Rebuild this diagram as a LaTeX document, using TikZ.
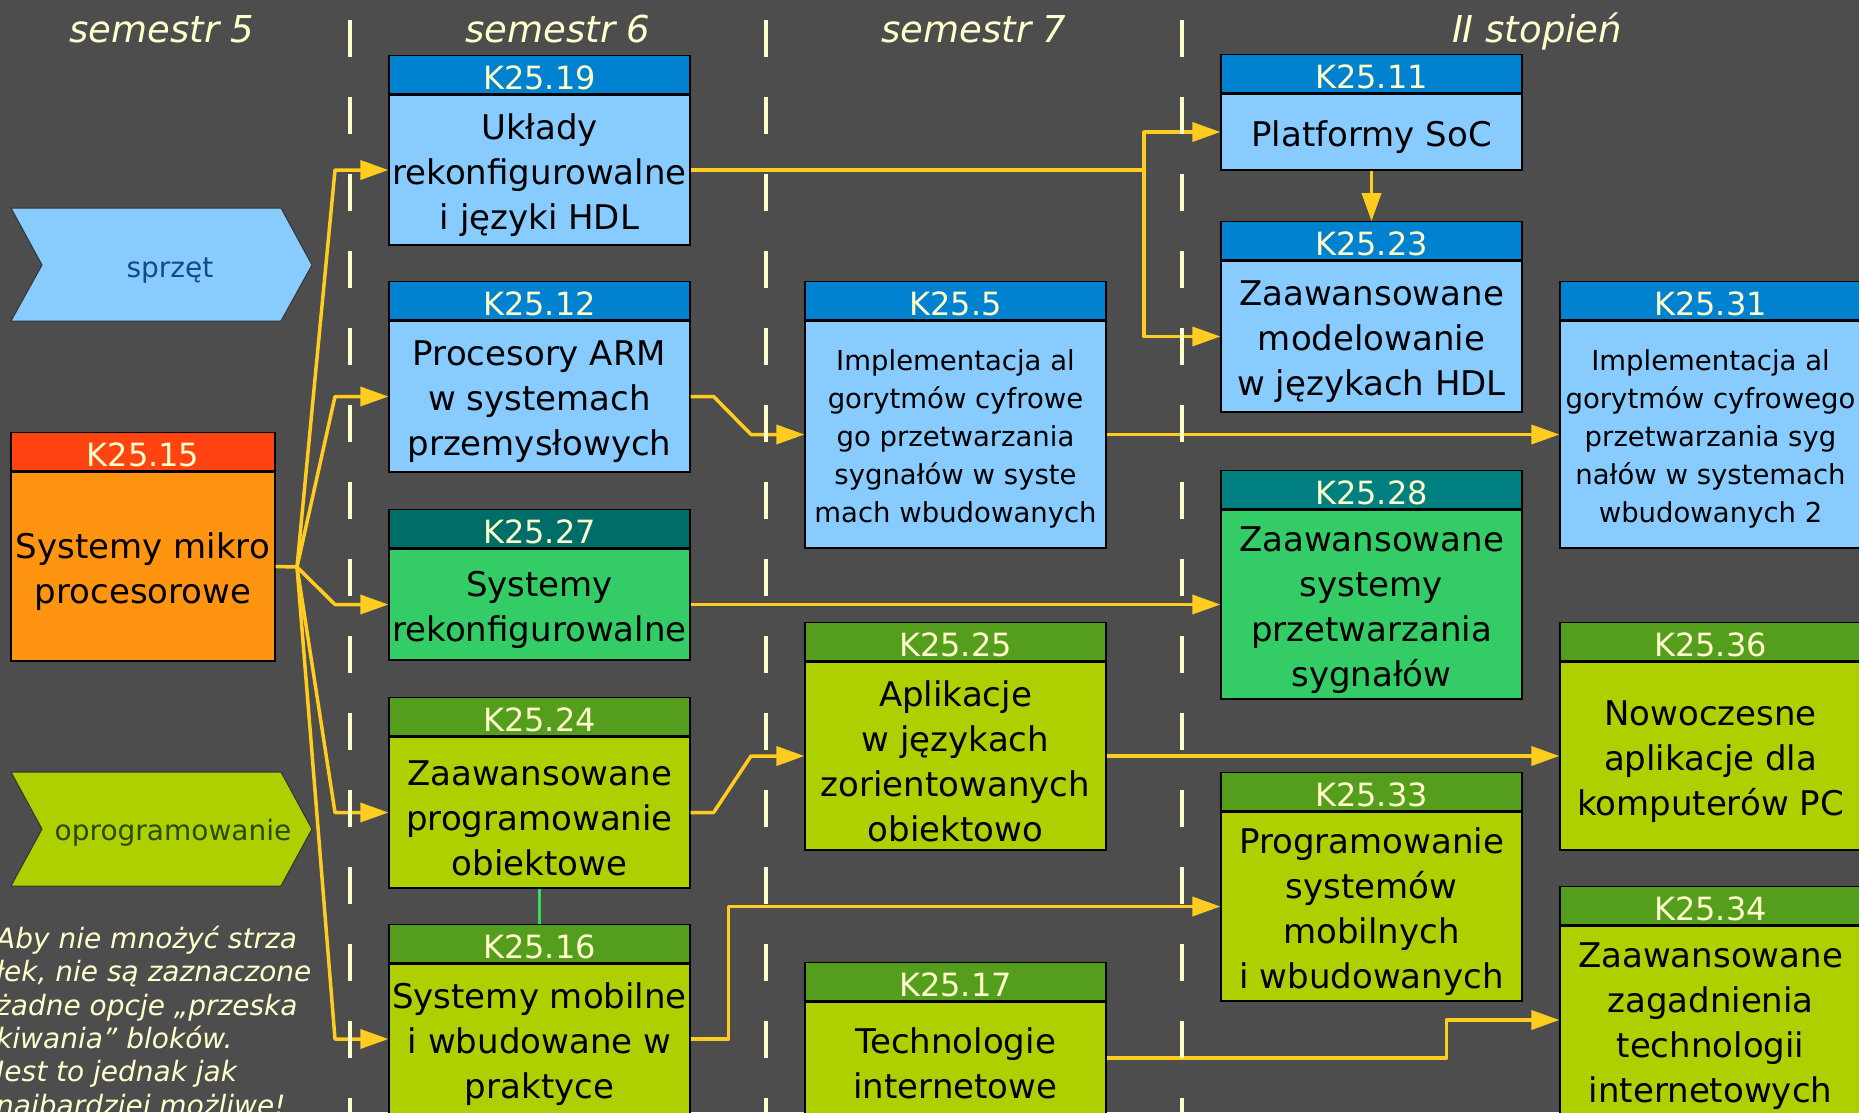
\documentclass[tikz,border=0pt]{standalone}
\usepackage{fontspec}
\setmainfont{DejaVu Sans}
\usetikzlibrary{arrows.meta}
\definecolor{bgdark}{HTML}{4D4D4D}
\definecolor{pale}{HTML}{FFFFCC}
\definecolor{linkyel}{HTML}{FFCC1F}
\definecolor{greenlink}{HTML}{33DD55}
\definecolor{hwheadc}{HTML}{0082D0}
\definecolor{hwbodyc}{HTML}{88CBFF}
\definecolor{dspheadc}{HTML}{006E68}
\definecolor{dspheadcc}{HTML}{008080}
\definecolor{dspbodyc}{HTML}{33CC66}
\definecolor{swheadc}{HTML}{559D1C}
\definecolor{swbodyc}{HTML}{AECF00}
\definecolor{baseheadc}{HTML}{FF4411}
\definecolor{basebodyc}{HTML}{FF9411}
\definecolor{hwtext}{HTML}{114A88}
\definecolor{swtext}{HTML}{2E4A00}
\newcommand{\lift}{\rule{0pt}{1.06em}}
\begin{document}
\begin{tikzpicture}[x=1pt,y=-1pt]
\tikzstyle{every node}+=[inner sep=0pt]
\tikzset{
  box/.style={draw=black, line width=1.2pt, minimum width=301pt, inner xsep=2pt, align=center, text=black, font=\fontsize{34}{45}\selectfont},
  small/.style={font=\fontsize{27.5}{38}\selectfont},
  hdr/.style={draw=black, line width=1.2pt, minimum width=301pt, minimum height=38pt, anchor=south, text=pale, font=\fontsize{32}{38}\selectfont, execute at begin node={\rule{0pt}{0.92em}}},
  hwhead/.style={fill=hwheadc}, hwbody/.style={fill=hwbodyc},
  dsphead/.style={fill=dspheadc}, dspbody/.style={fill=dspbodyc},
  swhead/.style={fill=swheadc}, swbody/.style={fill=swbodyc},
  heading/.style={text=pale, font=\fontsize{37}{44}\selectfont\itshape, anchor=base},
  tagshape/.style={draw=black!80, line width=1pt},
  wire/.style={draw=linkyel, line width=3.5pt, line join=round},
  arr/.style={-{Triangle[length=28pt,width=19pt]}},
  lane/.style={draw=pale, line width=3.5pt, dash pattern=on 37pt off 40pt}
}
\useasboundingbox (0,0) rectangle (1859,1112);
\fill[bgdark] (0,0) rectangle (1859,1112);

\node[heading] (s5) at (162,42) {semestr 5};
\node[heading] (s6) at (558,42) {semestr 6};
\node[heading] (s7) at (974,42) {semestr 7};
\node[heading] (s8) at (1537,42) {II stopień};

\draw[tagshape, fill=hwbodyc] (11,208) -- (281,208) -- (312,265) -- (281,321) -- (11,321) -- (42,265) -- cycle;
\node[anchor=base, text=hwtext, font=\fontsize{28}{34}\selectfont] (hwtag) at (170,277) {sprzęt};
\draw[tagshape, fill=swbodyc] (11,772) -- (281,772) -- (312,829) -- (281,886) -- (11,886) -- (42,829) -- cycle;
\node[anchor=base, text=swtext, font=\fontsize{28}{34}\selectfont] (swtag) at (173,840) {oprogramowanie};

\node[anchor=north west, align=left, text=pale, font=\fontsize{28}{33.3}\selectfont\itshape] (note) at (-4,926)
  {Aby nie mnożyć strza\\łek, nie są zaznaczone\\żadne opcje „przeska\\kiwania” bloków.\\Jest to jednak jak\\najbardziej możliwe!};

\node[box, fill=basebodyc, minimum width=264pt, minimum height=189pt] (k15) at (143,566.5) {\lift Systemy mikro\\procesorowe};
\node[hdr, fill=baseheadc, minimum width=264pt] (k15h) at (k15.north) {K25.15};

\node[box, hwbody, minimum height=150pt] (k19) at (539.5,170) {\lift Układy\\rekonfigurowalne\\i języki HDL};
\node[hdr, hwhead] (k19h) at (k19.north) {K25.19};
\node[box, hwbody, minimum height=151pt] (k12) at (539.5,396.5) {\lift Procesory ARM\\w systemach\\przemysłowych};
\node[hdr, hwhead] (k12h) at (k12.north) {K25.12};
\node[box, dspbody, minimum height=111pt] (k27) at (539.5,604.5) {\lift Systemy\\rekonfigurowalne};
\node[hdr, dsphead] (k27h) at (k27.north) {K25.27};
\node[box, swbody, minimum height=151pt] (k24) at (539.5,812.5) {\lift Zaawansowane\\programowanie\\obiektowe};
\node[hdr, swhead] (k24h) at (k24.north) {K25.24};
\node[box, swbody, minimum height=150pt] (k16) at (539.5,1039) {\lift Systemy mobilne\\i wbudowane w\\praktyce};
\node[hdr, swhead] (k16h) at (k16.north) {K25.16};

\node[box, small, hwbody, minimum height=227pt] (k5) at (955.5,434.5) {\lift Implementacja al\\gorytmów cyfrowe\\go przetwarzania\\sygnałów w syste\\mach wbudowanych};
\node[hdr, hwhead] (k5h) at (k5.north) {K25.5};
\node[box, swbody, minimum height=188pt] (k25) at (955.5,756) {\lift Aplikacje\\w językach\\zorientowanych\\obiektowo};
\node[hdr, swhead] (k25h) at (k25.north) {K25.25};
\node[box, swbody, minimum height=112pt] (k17) at (955.5,1058) {\lift Technologie\\internetowe};
\node[hdr, swhead] (k17h) at (k17.north) {K25.17};

\node[box, hwbody, minimum height=76pt] (k11) at (1371.5,132) {\lift Platformy SoC};
\node[hdr, hwhead] (k11h) at (k11.north) {K25.11};
\node[box, hwbody, minimum height=151pt] (k23) at (1371.5,336.5) {\lift Zaawansowane\\modelowanie\\w językach HDL};
\node[hdr, hwhead] (k23h) at (k23.north) {K25.23};
\node[box, dspbody, minimum height=189pt] (k28) at (1371.5,604.5) {\lift Zaawansowane\\systemy\\przetwarzania\\sygnałów};
\node[hdr, fill=dspheadcc] (k28h) at (k28.north) {K25.28};
\node[box, swbody, minimum height=189pt] (k33) at (1371.5,906.5) {\lift Programowanie\\systemów\\mobilnych\\i wbudowanych};
\node[hdr, swhead] (k33h) at (k33.north) {K25.33};

\node[box, small, hwbody, minimum height=227pt] (k31) at (1710.5,434.5) {\lift Implementacja al\\gorytmów cyfrowego\\przetwarzania syg\\nałów w systemach\\wbudowanych 2};
\node[hdr, hwhead] (k31h) at (k31.north) {K25.31};
\node[box, swbody, minimum height=188pt] (k36) at (1710.5,756) {\lift Nowoczesne\\aplikacje dla\\komputerów PC};
\node[hdr, swhead] (k36h) at (k36.north) {K25.36};
\node[box, swbody, minimum height=188pt] (k34) at (1710.5,1020) {\lift Zaawansowane\\zagadnienia\\technologii\\internetowych};
\node[hdr, swhead] (k34h) at (k34.north) {K25.34};

\coordinate (fan) at (297,567);
\coordinate (fx) at (335,0);
\coordinate (sp) at (1144,0);
\coordinate (jx) at (751,0);
\draw[wire] (k15.east) -- (fan);
\foreach \n in {k19,k12,k27,k24,k16}
  \draw[wire, arr] (fan) -- (fx |- \n.west) -- (\n.west);
\draw[wire, arr] (k19.east) -- (sp |- k19.east) |- (k23.west);
\draw[wire, arr] (sp |- k19.east) |- (k11.west);
\draw[wire, arr] (k11.south) -- (k23h.north);
\draw[wire, arr] (k12.east) -- ++(23,0) -- (jx |- k5.west) -- (k5.west);
\draw[wire, arr] (k5.east) -- (k31.west);
\draw[wire, arr] (k27.east) -- (k28.west);
\draw[wire, arr] (k24.east) -- ++(23,0) -- (jx |- k25.west) -- (k25.west);
\draw[wire, arr] (k25.east) -- (k36.west);
\draw[wire, arr] (k16.east) -- ++(38,0) |- (k33.west);
\draw[wire, arr] (k17.east) -- ++(340,0) |- (k34.west);
\draw[draw=greenlink, line width=3pt] (k24.south) -- (k16h.north);

\foreach \x in {350,766,1182}
  \draw[lane] (\x,20) -- (\x,1112);
\end{tikzpicture}
\end{document}
